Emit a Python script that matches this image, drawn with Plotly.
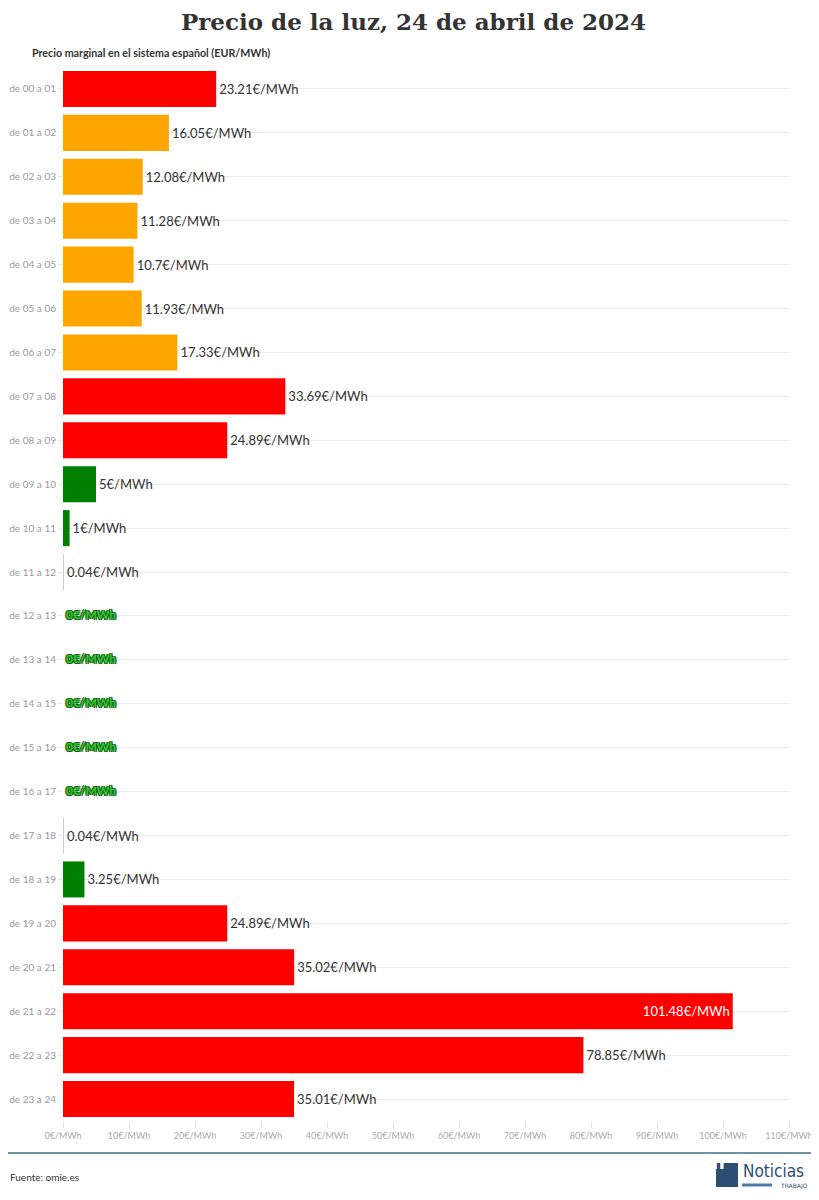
import plotly.graph_objects as go

hours = ["de 00 a 01", "de 01 a 02", "de 02 a 03", "de 03 a 04", "de 04 a 05", "de 05 a 06",
         "de 06 a 07", "de 07 a 08", "de 08 a 09", "de 09 a 10", "de 10 a 11", "de 11 a 12",
         "de 12 a 13", "de 13 a 14", "de 14 a 15", "de 15 a 16", "de 16 a 17", "de 17 a 18",
         "de 18 a 19", "de 19 a 20", "de 20 a 21", "de 21 a 22", "de 22 a 23", "de 23 a 24"]
prices = [23.21, 16.05, 12.08, 11.28, 10.7, 11.93, 17.33, 33.69, 24.89, 5, 1, 0.04,
          0, 0, 0, 0, 0, 0.04, 3.25, 24.89, 35.02, 101.48, 78.85, 35.01]
labels = ["23.21", "16.05", "12.08", "11.28", "10.7", "11.93", "17.33", "33.69", "24.89", "5", "1", "0.04",
          "0", "0", "0", "0", "0", "0.04", "3.25", "24.89", "35.02", "101.48", "78.85", "35.01"]
xticks = [0, 10, 20, 30, 40, 50, 60, 70, 80, 90, 100, 110]

RED, ORANGE, GREEN, GREY = "#ff0000", "#ffa500", "#008000", "#cccccc"


def color_for(v):
    if v >= 20:
        return RED
    if v >= 10:
        return ORANGE
    if v >= 0.5:
        return GREEN
    return GREY


colors = [color_for(v) for v in prices]
texts = [(l + "€/MWh") if v > 0 else "" for l, v in zip(labels, prices)]
positions = ["inside" if v > 100 else "outside" for v in prices]
tcolors = ["#ffffff" if v > 100 else "#333333" for v in prices]

LBL = "Lato"

fig = go.Figure()
fig.add_trace(go.Bar(
    x=prices, y=hours, orientation="h",
    marker=dict(color=colors, line=dict(width=0)),
    text=texts, textposition=positions,
    insidetextanchor="end",
    textfont=dict(color=tcolors, size=13, family=LBL),
    outsidetextfont=dict(color=tcolors, size=13, family=LBL),
    insidetextfont=dict(color=tcolors, size=13, family=LBL),
    cliponaxis=False, hoverinfo="skip",
))

zero_h = [h for h, v in zip(hours, prices) if v == 0]
zero_x = [v for v in prices if v == 0]
zero_t = [" " + l + "€/MWh" for l, v in zip(labels, prices) if v == 0]
fig.add_trace(go.Scatter(
    x=zero_x, y=zero_h, mode="text", text=zero_t, textposition="middle right",
    textfont=dict(color="#3cc23c", size=12, family=LBL, weight="bold",
                  shadow="1px 1px 0 #0b6b0b, -1px -1px 0 #0b6b0b, 1px -1px 0 #0b6b0b, -1px 1px 0 #0b6b0b"),
    cliponaxis=False, hoverinfo="skip", showlegend=False,
))

# page has an 8px body margin; figure is offset by it
fig.update_layout(
    width=811, height=1192,
    margin=dict(l=55, r=30, t=59, b=79, autoexpand=False),
    plot_bgcolor="white", paper_bgcolor="white",
    showlegend=False, bargap=0.18,
    font=dict(family=LBL, color="#333"),
    title=dict(text="Precio de la luz, 24 de abril de 2024",
               x=0.5, xanchor="center", y=1 - 14 / 1192, yanchor="middle",
               font=dict(family="DejaVu Serif", size=23, color="#333", weight="bold")),
    xaxis=dict(range=[0, 110], tickvals=xticks, ticktext=[f"{t}€/MWh" for t in xticks],
               showgrid=False, zeroline=False, ticks="outside", ticklen=6, tickcolor="#e0e0e0",
               tickfont=dict(size=9, color="#aaaaaa", family=LBL), showline=False,
               automargin=False),
    yaxis=dict(autorange="reversed", showgrid=True, gridcolor="#ebebeb", gridwidth=1,
               ticks="outside", ticklen=4, tickcolor="#ebebeb",
               tickfont=dict(size=10, color="#999999", family=LBL), showline=False,
               zeroline=False, automargin=False),
)


def px(xp):
    return (xp - 63) / 726


def py(yp):
    return (1121 - yp) / 1054


fig.add_annotation(text="<b>Precio marginal en el sistema español (EUR/MWh)</b>",
                   xref="paper", yref="paper", x=px(30), y=py(52),
                   xanchor="left", yanchor="middle", showarrow=False,
                   font=dict(size=10.7, color="#333", family=LBL))

fig.add_shape(type="line", xref="paper", yref="paper",
              x0=px(8), x1=px(811), y0=py(1153), y1=py(1153),
              line=dict(color="#6d93a3", width=2))

fig.add_annotation(text="Fuente: omie.es", xref="paper", yref="paper",
                   x=px(8), y=py(1177), xanchor="left", yanchor="middle",
                   showarrow=False, font=dict(size=10, color="#333", family=LBL))

# logo
fig.add_shape(type="rect", xref="paper", yref="paper", x0=px(716), x1=px(738), y0=py(1187), y1=py(1163),
              fillcolor="#2d4e72", line=dict(width=0))
fig.add_annotation(text="<b>n</b>", xref="paper", yref="paper", x=px(727), y=py(1176),
                   showarrow=False, font=dict(size=20, color="white", family="DejaVu Sans Condensed"))
fig.add_annotation(text="Noticias", xref="paper", yref="paper", x=px(741), y=py(1170.5),
                   xanchor="left", yanchor="middle", showarrow=False,
                   font=dict(size=17, color="#2d4e72", family="DejaVu Sans Condensed"))
fig.add_shape(type="rect", xref="paper", yref="paper", x0=px(742), x1=px(772), y0=py(1186.5), y1=py(1183.5),
              fillcolor="#4a7ba8", line=dict(width=0))
fig.add_annotation(text="TRABAJO", xref="paper", yref="paper", x=px(810), y=py(1186),
                   xanchor="right", yanchor="middle", showarrow=False,
                   font=dict(size=6, color="#2d4e72", family="DejaVu Sans"))

fig.write_html("out.html")
